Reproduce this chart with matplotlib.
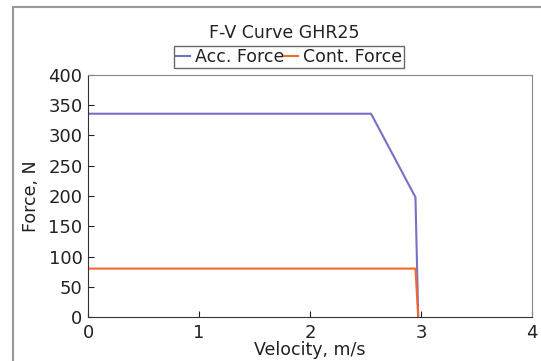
import matplotlib.pyplot as plt
from matplotlib.patches import Rectangle

plt.rcParams['font.family'] = ['DejaVu Sans']

# F-V curve data
acc_v = [0, 2.55, 2.95, 2.975]
acc_f = [336, 336, 198, 0]
cont_v = [0, 2.95, 2.975]
cont_f = [80, 80, 0]

fig = plt.figure(figsize=(5.41, 3.61), dpi=100)
ax = fig.add_axes([88/541, 1-317/361, (532-88)/541, (317-75)/361])

ax.plot(acc_v, acc_f, color='#7571c6', lw=1.5, label='Acc. Force')
ax.plot(cont_v, cont_f, color='#f2692e', lw=1.5, label='Cont. Force')

ax.set_xlim(0, 4)
ax.set_ylim(0, 400)
ax.set_xticks([0, 1, 2, 3, 4])
ax.set_yticks(range(0, 401, 50))
ax.tick_params(direction='in', labelsize=13, colors='#222222', length=4)
ax.tick_params(axis='x', pad=5)
ax.tick_params(axis='y', pad=4)
for s in ['left', 'bottom']:
    ax.spines[s].set_color('#333333')
for s in ['top', 'right']:
    ax.spines[s].set_color('#888888')
ax.set_xlabel('Velocity, m/s', fontsize=12.5, labelpad=-1, color='#222222')
ax.set_ylabel('Force, N', fontsize=12.5, labelpad=6, color='#222222')
ax.set_title('F-V Curve GHR25', fontsize=12.5, pad=27, color='#222222', x=(284-88)/444)

leg = ax.legend(loc='center', bbox_to_anchor=(289/541, 1-57/361), bbox_transform=fig.transFigure,
                ncol=2, fontsize=12.5, handlelength=0.8, handletextpad=0.3, columnspacing=0.0,
                frameon=True, fancybox=False, borderpad=0.1, borderaxespad=0)
leg.get_frame().set_edgecolor('#444444')
leg.get_frame().set_linewidth(1.0)
for t in leg.get_texts():
    t.set_color('#222222')

# outer frame
fig.patches.append(Rectangle((13/541, -0.1), 1.0, 1-7/361+0.1, transform=fig.transFigure,
                             fill=False, edgecolor='#999999', lw=1.5))

fig.savefig('out.png', dpi=100)
